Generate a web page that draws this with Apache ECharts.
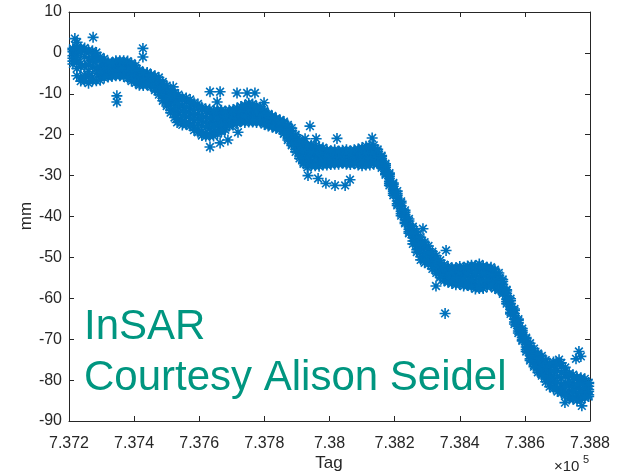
<!DOCTYPE html>
<html>
<head>
<meta charset="utf-8">
<title>InSAR</title>
<script src="https://cdn.jsdelivr.net/npm/echarts@6/dist/echarts.min.js"></script>
<style>
html, body { margin: 0; padding: 0; background: #ffffff; }
#chart { width: 619px; height: 474px; }
</style>
</head>
<body>
<div id="chart"></div>
<script>
// Acquisition dates (MATLAB datenum, 12-day revisit)
const dates = [
  737212, 737224, 737236, 737248, 737260, 737272, 737284, 737296, 737308, 737320,
  737332, 737344, 737356, 737368, 737380, 737392, 737404, 737416, 737428, 737440,
  737452, 737464, 737476, 737488, 737500, 737512, 737524, 737536, 737548, 737560,
  737572, 737584, 737596, 737608, 737620, 737632, 737644, 737656, 737668, 737680,
  737692, 737704, 737716, 737728, 737740, 737752, 737764, 737776, 737788, 737800,
  737812, 737824, 737836, 737848, 737860, 737872, 737884, 737896, 737908, 737920,
  737932, 737944, 737956, 737968, 737980, 737992, 738004, 738016, 738028, 738040,
  738052, 738064, 738076, 738088, 738100, 738112, 738124, 738136, 738148, 738160,
  738172, 738184, 738196, 738208, 738220, 738232, 738244, 738256, 738268, 738280,
  738292, 738304, 738316, 738328, 738340, 738352, 738364, 738376, 738388, 738400,
  738412, 738424, 738436, 738448, 738460, 738472, 738484, 738496, 738508, 738520,
  738532, 738544, 738556, 738568, 738580, 738592, 738604, 738616, 738628, 738640,
  738652, 738664, 738676, 738688, 738700, 738712, 738724, 738736, 738748, 738760,
  738772, 738784, 738796
];

// Displacement in mm, one array per pixel of the area
const pixelA = [
  0.3, 0.7, -3.4, -6.1, -1.4, -5.9, -0.8, -5.8, -2.2, -5.3,
  -2.6, -5.1, -2.5, -5.4, -2.6, -6.3, -3.7, -7.4, -5.0, -7.6,
  -5.6, -8.7, -6.6, -11.1, -8.7, -14.0, -10.4, -16.2, -11.5, -17.0,
  -12.3, -18.1, -13.4, -19.4, -14.3, -19.8, -14.8, -19.2, -14.9, -18.2,
  -14.6, -17.1, -13.9, -16.4, -13.2, -16.5, -13.1, -16.6, -13.7, -17.0,
  -15.2, -17.8, -16.2, -18.5, -17.2, -20.8, -19.0, -23.6, -21.6, -26.7,
  -22.9, -27.2, -23.4, -27.1, -23.8, -26.9, -24.2, -26.8, -24.3, -26.7,
  -24.2, -26.8, -24.2, -26.9, -23.6, -27.0, -23.2, -26.8, -24.1, -27.6,
  -27.5, -31.9, -32.1, -36.9, -36.7, -41.4, -41.1, -46.0, -44.4, -49.8,
  -46.8, -51.1, -49.1, -53.3, -51.4, -55.2, -52.7, -55.9, -52.9, -56.2,
  -52.8, -56.5, -52.6, -57.0, -52.3, -56.9, -52.8, -56.6, -53.4, -57.6,
  -55.9, -60.8, -60.6, -65.8, -65.4, -70.1, -69.9, -74.8, -72.9, -77.5,
  -74.7, -79.7, -76.3, -81.6, -76.4, -82.6, -77.7, -83.9, -79.4, -84.3,
  -79.8, -83.9, -80.8
];
const pixelB = [
  -2.0, -3.8, 0.9, -0.9, -5.6, -2.0, -5.0, -1.6, -5.5, -2.7,
  -4.8, -2.3, -4.6, -2.4, -5.5, -3.0, -6.6, -4.6, -7.5, -5.3,
  -7.8, -6.2, -9.6, -7.6, -12.5, -9.5, -15.0, -11.1, -16.8, -11.9,
  -17.4, -12.8, -18.9, -13.8, -19.6, -14.7, -19.6, -14.9, -18.9, -14.7,
  -17.5, -14.3, -16.8, -13.7, -16.4, -12.9, -16.6, -13.6, -16.6, -14.4,
  -17.5, -15.7, -18.2, -16.7, -19.6, -18.0, -22.2, -20.4, -25.2, -22.6,
  -27.3, -23.2, -27.2, -23.5, -27.0, -24.1, -26.9, -24.2, -26.8, -24.3,
  -26.9, -24.2, -26.9, -23.9, -27.0, -23.4, -26.8, -23.3, -26.7, -25.4,
  -29.5, -29.7, -34.3, -34.4, -39.3, -39.0, -43.7, -43.0, -48.1, -45.6,
  -50.6, -47.9, -52.2, -50.3, -54.5, -52.3, -55.7, -53.0, -56.1, -52.8,
  -56.4, -52.7, -56.8, -52.4, -57.1, -52.5, -56.6, -53.0, -57.0, -54.4,
  -58.5, -58.2, -63.4, -63.0, -68.0, -67.9, -72.5, -71.6, -76.3, -73.9,
  -78.5, -75.5, -80.9, -76.4, -82.0, -76.6, -83.3, -78.9, -84.2, -79.7,
  -84.2, -80.3, -83.6
];
const pixelC = [
  -0.7, -0.6, -6.0, 0.4, -2.9, 0.0, -3.9, -3.4, -4.6, -3.6,
  -5.4, -3.1, -5.2, -3.6, -4.0, -5.2, -4.6, -6.4, -6.0, -6.9,
  -6.2, -7.9, -7.6, -10.2, -9.9, -12.4, -11.8, -14.6, -13.0, -15.6,
  -13.6, -16.6, -15.0, -17.8, -15.6, -18.4, -15.9, -18.0, -15.8, -17.3,
  -15.3, -16.4, -14.6, -15.7, -14.0, -15.7, -14.2, -15.8, -14.4, -16.3,
  -15.8, -17.3, -16.7, -18.0, -17.9, -20.2, -19.8, -22.8, -22.4, -25.7,
  -24.0, -26.3, -24.3, -26.3, -24.5, -26.3, -24.8, -26.2, -24.9, -26.2,
  -24.8, -26.3, -24.8, -26.2, -24.4, -26.2, -24.1, -25.9, -24.8, -27.0,
  -28.0, -31.4, -32.6, -36.2, -37.4, -40.8, -41.8, -45.2, -45.3, -48.7,
  -47.6, -50.4, -49.7, -52.6, -52.1, -54.5, -53.4, -55.2, -53.7, -55.4,
  -53.7, -55.6, -53.7, -55.9, -53.6, -55.8, -53.8, -55.7, -54.3, -56.8,
  -56.6, -60.2, -61.3, -65.1, -66.0, -69.6, -70.5, -74.0, -73.7, -76.6,
  -75.6, -78.7, -77.5, -80.3, -77.7, -81.2, -79.0, -82.7, -80.6, -83.2,
  -80.9, -83.1, -81.5
];
const pixelD = [
  -1.3, -2.3, -2.6, -3.3, -3.0, -3.2, -3.7, -3.8, -3.7, -4.2,
  -3.9, -3.9, -3.6, -4.1, -4.3, -4.5, -5.5, -5.8, -6.4, -6.3,
  -6.8, -7.3, -8.3, -9.1, -10.7, -11.5, -12.8, -13.4, -14.2, -14.3,
  -14.9, -15.3, -16.2, -16.4, -17.0, -17.1, -17.2, -16.9, -16.9, -16.3,
  -16.1, -15.6, -15.4, -14.9, -14.9, -14.6, -14.9, -14.9, -15.2, -15.6,
  -16.4, -16.7, -17.3, -17.5, -18.5, -19.3, -20.7, -21.9, -23.5, -24.5,
  -25.2, -25.1, -25.4, -25.2, -25.5, -25.4, -25.6, -25.4, -25.6, -25.4,
  -25.6, -25.4, -25.6, -25.3, -25.4, -25.1, -25.1, -24.9, -25.5, -26.4,
  -28.6, -30.7, -33.3, -35.5, -38.1, -40.1, -42.5, -44.4, -46.4, -47.6,
  -48.8, -49.4, -50.7, -51.7, -53.0, -53.6, -54.3, -54.3, -54.6, -54.4,
  -54.7, -54.5, -54.8, -54.6, -54.8, -54.6, -54.8, -54.7, -55.3, -55.9,
  -57.3, -59.4, -62.1, -64.3, -66.8, -68.9, -71.3, -73.1, -74.7, -75.6,
  -76.7, -77.5, -78.7, -78.9, -79.3, -79.5, -80.6, -81.3, -81.9, -81.9,
  -82.1, -82.0, -82.3
];
const pixelE = [
  1.1, -1.2, 0.2, -5.5, -4.6, -1.4, -1.9, -4.9, -3.2, -3.2,
  -3.1, -4.4, -4.5, -4.4, -5.0, -3.6, -5.9, -6.4, -6.9, -5.9,
  -7.3, -6.8, -9.0, -8.4, -11.6, -10.6, -13.9, -12.3, -15.4, -13.1,
  -16.1, -14.1, -17.4, -15.3, -18.2, -15.9, -18.3, -15.9, -17.8, -15.5,
  -16.8, -15.0, -16.0, -14.3, -15.6, -13.8, -15.7, -14.2, -15.8, -15.0,
  -16.9, -16.3, -17.7, -17.1, -19.0, -18.7, -21.4, -21.2, -24.3, -23.6,
  -26.2, -24.2, -26.2, -24.4, -26.2, -24.8, -26.2, -24.8, -26.1, -24.9,
  -26.2, -24.8, -26.2, -24.6, -26.2, -24.3, -25.9, -24.1, -26.1, -25.9,
  -29.0, -30.2, -33.8, -34.9, -38.7, -39.6, -43.1, -43.7, -47.3, -46.6,
  -49.7, -48.7, -51.4, -51.0, -53.7, -52.9, -55.0, -53.6, -55.3, -53.6,
  -55.5, -53.7, -55.7, -53.6, -55.9, -53.6, -55.6, -53.9, -56.1, -55.2,
  -57.9, -58.8, -62.7, -63.7, -67.4, -68.4, -71.9, -72.4, -75.5, -74.8,
  -77.5, -76.6, -79.7, -77.8, -80.5, -78.2, -81.8, -80.3, -82.9, -81.0,
  -83.0, -81.3, -82.8
];
const pixelF = [
  0.8, -5.6, -6.9, 1.2, -7.4, 0.5, 0.1, -6.7, -1.5, -5.9,
  -5.8, -1.9, -5.6, -1.9, -2.0, -6.9, -3.1, -7.9, -8.0, -4.8,
  -8.3, -5.6, -6.0, -11.7, -8.0, -14.6, -15.8, -10.2, -17.6, -11.0,
  -11.4, -18.9, -12.5, -20.2, -20.4, -13.8, -20.3, -14.0, -14.0, -18.8,
  -14.0, -17.6, -17.2, -13.1, -17.0, -12.3, -12.5, -17.0, -13.2, -17.5,
  -17.9, -15.4, -18.5, -16.4, -16.8, -21.3, -18.4, -24.2, -25.8, -21.8,
  -28.0, -22.6, -22.8, -27.7, -23.2, -27.4, -27.3, -23.7, -27.2, -23.8,
  -23.7, -27.3, -23.7, -27.4, -27.6, -22.8, -27.4, -22.6, -23.6, -28.1,
  -27.1, -32.4, -34.8, -33.8, -39.8, -38.5, -40.6, -46.7, -43.7, -50.6,
  -51.3, -47.2, -52.8, -49.6, -50.7, -55.7, -52.2, -56.4, -56.7, -52.2,
  -57.0, -52.1, -51.9, -57.7, -51.6, -57.6, -57.2, -52.4, -57.6, -53.8,
  -55.4, -61.3, -60.1, -66.3, -68.5, -67.4, -73.0, -71.0, -72.3, -78.1,
  -74.1, -80.4, -81.6, -75.6, -82.8, -75.8, -76.9, -84.6, -78.7, -85.0,
  -84.9, -79.7, -84.0
];
const pixelG = [
  -2.7, 1.3, 1.2, -6.9, 0.6, -6.8, -6.8, -1.0, -6.1, -2.2,
  -2.4, -5.6, -1.9, -5.8, -6.2, -2.5, -7.3, -4.2, -4.8, -7.8,
  -5.3, -9.1, -10.2, -7.1, -13.0, -9.1, -9.8, -16.7, -10.9, -17.5,
  -17.9, -12.2, -19.4, -13.3, -13.7, -20.3, -14.1, -19.8, -19.3, -14.2,
  -17.9, -13.9, -13.5, -16.8, -12.8, -16.9, -16.9, -13.1, -16.9, -14.1,
  -14.9, -18.1, -16.0, -18.7, -19.8, -17.6, -22.6, -20.0, -21.2, -27.1,
  -22.5, -27.6, -27.6, -23.1, -27.4, -23.7, -23.9, -27.2, -24.0, -27.0,
  -27.2, -23.9, -27.1, -23.5, -23.2, -27.4, -22.8, -27.2, -27.1, -25.1,
  -29.8, -29.4, -31.8, -37.3, -36.3, -41.7, -44.1, -42.5, -48.7, -45.1,
  -46.3, -51.6, -48.6, -53.8, -54.9, -51.8, -56.1, -52.5, -52.5, -56.6,
  -52.4, -56.9, -57.2, -52.0, -57.6, -52.1, -52.4, -57.0, -53.0, -58.0,
  -58.9, -57.9, -63.8, -62.6, -65.1, -70.4, -69.6, -75.2, -76.7, -73.5,
  -78.9, -75.1, -75.9, -82.1, -75.9, -83.1, -83.8, -78.4, -84.7, -79.3,
  -79.4, -84.3, -80.6
];

// Isolated measurements away from the main trend
const strayDates = [
  737218, 737225, 737274, 737347, 737347, 737427, 737427, 737520, 737532, 737633,
  737633, 737655, 737664, 737664, 737688, 737716, 737719, 737747, 737771, 737799,
  737925, 737934, 737940, 737959, 737965, 737989, 738017, 738023, 738048, 738063,
  738131, 738287, 738327, 738355, 738358, 738696, 738705, 738723, 738757, 738766,
  738772, 738775
];
const strayValues = [
  3.5, 2.6, 3.8, -10.5, -12.0, 1.1, -1.0, -8.3, -17.0, -9.5,
  -23.0, -12.0, -9.5, -22.0, -21.3, -9.8, -19.4, -9.8, -9.8, -12.2,
  -21.0, -30.0, -17.9, -21.0, -30.7, -31.9, -32.4, -20.9, -32.4, -31.0,
  -20.8, -43.0, -57.0, -63.7, -48.3, -75.6, -75.0, -85.5, -74.8, -73.0,
  -74.2, -86.3
];

const xTickLabels = ['7.372', '7.374', '7.376', '7.378', '7.38', '7.382', '7.384', '7.386', '7.388'];
const yTickLabels = ['-90', '-80', '-70', '-60', '-50', '-40', '-30', '-20', '-10', '0', '10'];

const points = [];
[pixelA, pixelB, pixelC, pixelD, pixelE, pixelF, pixelG].forEach(function (px) {
  px.forEach(function (v, i) { points.push([dates[i], v]); });
});
strayDates.forEach(function (d, i) { points.push([d, strayValues[i]]); });

const FONT = '"Liberation Sans", Arial, Helvetica, sans-serif';
const AXIS = '#262626';
const BLUE = '#0072BD';
const TEAL = '#009680';
// MATLAB-style '*' marker: a plus overlaid with a cross
const asterisk = 'path://M5,0L5,10M0,5L10,5M1.5,1.5L8.5,8.5M1.5,8.5L8.5,1.5';

const X0 = 737200, X1 = 738800, XSTEP = 200;

function xAxisCfg(pos, showLabels) {
  return {
    type: 'value', position: pos, min: X0, max: X1, interval: XSTEP,
    axisLine: { show: true, onZero: false, lineStyle: { color: AXIS, width: 1 } },
    axisTick: { show: true, inside: true, length: 5, lineStyle: { color: AXIS, width: 1 } },
    axisLabel: {
      show: showLabels, color: AXIS, fontSize: 16, fontFamily: FONT, margin: 15,
      formatter: function (v) { return xTickLabels[Math.round((v - X0) / XSTEP)]; }
    },
    splitLine: { show: false }
  };
}
function yAxisCfg(pos, showLabels) {
  return {
    type: 'value', position: pos, min: -90, max: 10, interval: 10,
    axisLine: { show: true, onZero: false, lineStyle: { color: AXIS, width: 1 } },
    axisTick: { show: true, inside: true, length: 5, lineStyle: { color: AXIS, width: 1 } },
    axisLabel: {
      show: showLabels, color: AXIS, fontSize: 16, fontFamily: FONT, margin: 7,
      formatter: function (v) { return yTickLabels[Math.round((v + 90) / 10)]; }
    },
    splitLine: { show: false }
  };
}

const chart = echarts.init(document.getElementById('chart'), null, { renderer: 'canvas' });
chart.setOption({
  animation: false,
  backgroundColor: '#ffffff',
  grid: { left: 69, right: 29, top: 12, bottom: 53, containLabel: false },
  xAxis: [xAxisCfg('bottom', true), xAxisCfg('top', false)],
  yAxis: [yAxisCfg('left', true), yAxisCfg('right', false)],
  series: [{
    type: 'scatter',
    xAxisIndex: 0, yAxisIndex: 0,
    data: points,
    symbol: asterisk,
    symbolSize: 11,
    symbolKeepAspect: true,
    progressive: 0,
    large: false,
    itemStyle: { color: 'rgba(0,0,0,0)', borderColor: BLUE, borderWidth: 1.6, opacity: 1 },
    emphasis: { disabled: true },
    silent: true
  }],
  graphic: [
    { type: 'text', x: 329, y: 463, silent: true,
      style: { text: 'Tag', fill: AXIS, fontSize: 17, fontFamily: FONT, align: 'center', verticalAlign: 'middle' } },
    { type: 'text', x: 26, y: 216, rotation: Math.PI / 2, silent: true,
      style: { text: 'mm', fill: AXIS, fontSize: 17, fontFamily: FONT, align: 'center', verticalAlign: 'middle' } },
    { type: 'text', x: 554, y: 467, silent: true,
      style: { text: '\u00d710', fill: AXIS, fontSize: 15, fontFamily: FONT, align: 'left', verticalAlign: 'middle' } },
    { type: 'text', x: 583, y: 460, silent: true,
      style: { text: '5', fill: AXIS, fontSize: 11, fontFamily: FONT, align: 'left', verticalAlign: 'middle' } },
    { type: 'text', x: 84, y: 327, silent: true,
      style: { text: 'InSAR', fill: TEAL, fontSize: 42, fontFamily: FONT, align: 'left', verticalAlign: 'middle' } },
    { type: 'text', x: 84, y: 378, silent: true,
      style: { text: 'Courtesy Alison Seidel', fill: TEAL, fontSize: 42, fontFamily: FONT, align: 'left', verticalAlign: 'middle' } }
  ]
});
</script>
</body>
</html>
